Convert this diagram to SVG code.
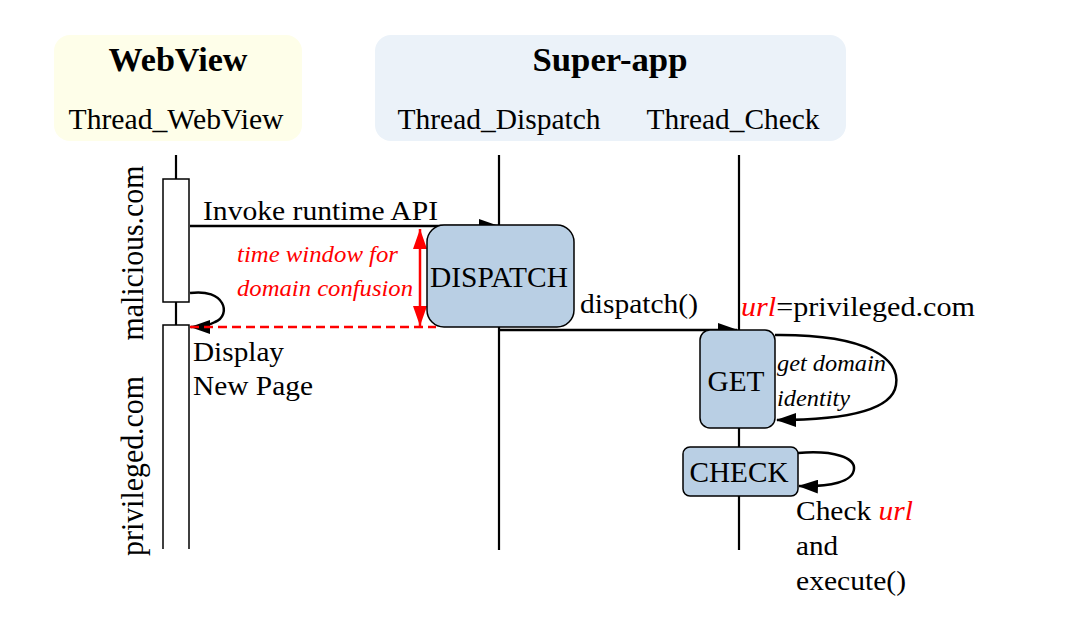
<svg xmlns="http://www.w3.org/2000/svg" width="1088" height="629" viewBox="0 0 1088 629">
<style>
text{font-family:"Liberation Serif","Times New Roman",serif;fill:#000}
.hdr{font-weight:bold;font-size:34px;text-anchor:middle}
.th{font-size:29px;text-anchor:middle}
.lbl{font-size:28px}
.red{fill:#ff0000;font-style:italic}
.it{font-style:italic}
.life{stroke:#000;stroke-width:2.2;fill:none}
.act{fill:#fff;stroke:#000;stroke-width:1.5}
.proc{fill:#b9cfe4;stroke:#000;stroke-width:1.5}
.conn{stroke:#000;stroke-width:2.5;fill:none}
</style>
<defs>
<marker id="ahb" markerWidth="20" markerHeight="14" refX="19" refY="7" orient="auto" markerUnits="userSpaceOnUse" viewBox="0 0 20 14">
<path d="M0,0 L20,7 L0,14 z" fill="#000"/>
</marker>
<marker id="ahr" markerWidth="20" markerHeight="14" refX="20" refY="7" orient="auto-start-reverse" markerUnits="userSpaceOnUse" viewBox="0 0 20 14">
<path d="M0,0 L20,7 L0,14 z" fill="#ff0000"/>
</marker>
</defs>

<g id="webview-header">
<rect x="54" y="35" width="248" height="106" rx="16" fill="#fefee9"/>
<text class="hdr" x="178" y="71" textLength="139" lengthAdjust="spacingAndGlyphs">WebView</text>
<text class="th" x="176" y="129" textLength="215" lengthAdjust="spacingAndGlyphs">Thread_WebView</text>
</g>
<g id="superapp-header">
<rect x="375" y="35" width="471" height="106" rx="16" fill="#ebf2f9"/>
<text class="hdr" x="610" y="71" textLength="155" lengthAdjust="spacingAndGlyphs">Super-app</text>
<text class="th" x="499" y="129" textLength="203" lengthAdjust="spacingAndGlyphs">Thread_Dispatch</text>
<text class="th" x="733" y="129" textLength="173" lengthAdjust="spacingAndGlyphs">Thread_Check</text>
</g>

<g id="lifelines">
<line class="life" x1="176" y1="155" x2="176" y2="325"/>
<line class="life" x1="499" y1="155" x2="499" y2="550"/>
<line class="life" x1="739" y1="155" x2="739" y2="550"/>
</g>

<g id="webview-activation-1">
<rect class="act" x="163" y="179" width="26" height="123"/>
</g>
<g id="webview-activation-2">
<path d="M163,549 L163,325 L189,325 L189,549" class="act"/>
</g>
<g id="domain-labels">
<text transform="translate(143,253) rotate(-90)" text-anchor="middle" font-size="32" textLength="175" lengthAdjust="spacingAndGlyphs">malicious.com</text>
<text transform="translate(143,466) rotate(-90)" text-anchor="middle" font-size="32" textLength="180" lengthAdjust="spacingAndGlyphs">privileged.com</text>
</g>

<g id="connectors">
<line class="conn" x1="190" y1="226" x2="498" y2="226" marker-end="url(#ahb)"/>
<path class="conn" d="M190,293 C225,288 232,315 215,322 C208,326 200,327 191,327" marker-end="url(#ahb)"/>
<line x1="190" y1="327" x2="436" y2="327" stroke="#ff0000" stroke-width="2.3" stroke-dasharray="9,5"/>
<line x1="420" y1="229" x2="420" y2="326" stroke="#ff0000" stroke-width="2.5" marker-start="url(#ahr)" marker-end="url(#ahr)"/>
<line class="conn" x1="500" y1="330" x2="737" y2="330" marker-end="url(#ahb)"/>
<path class="conn" d="M775,335 C870,334 900,360 896,385 C892,412 840,420 777,420" marker-end="url(#ahb)"/>
<path class="conn" d="M798,453 C835,450 855,458 854,469 C853,482 830,487 799,486" marker-end="url(#ahb)"/>
</g>

<g id="dispatch">
<rect class="proc" x="427" y="225" width="147" height="102" rx="17"/>
<text x="499" y="287" font-size="29" text-anchor="middle" textLength="138" lengthAdjust="spacingAndGlyphs">DISPATCH</text>
</g>
<g id="get">
<rect class="proc" x="700" y="330" width="75" height="98" rx="10"/>
<text x="736" y="391" font-size="29" text-anchor="middle" textLength="57" lengthAdjust="spacingAndGlyphs">GET</text>
</g>
<g id="check">
<rect class="proc" x="683" y="447" width="115" height="49" rx="7"/>
<text x="739" y="482" font-size="29" text-anchor="middle" textLength="99" lengthAdjust="spacingAndGlyphs">CHECK</text>
</g>

<g id="labels">
<text class="lbl" x="203" y="220" textLength="235" lengthAdjust="spacingAndGlyphs">Invoke runtime API</text>
<text class="red" x="237" y="262" font-size="24" textLength="161" lengthAdjust="spacingAndGlyphs">time window for</text>
<text class="red" x="237" y="296" font-size="24" textLength="176" lengthAdjust="spacingAndGlyphs">domain confusion</text>
<text class="lbl" x="193" y="361" textLength="91" lengthAdjust="spacingAndGlyphs">Display</text>
<text class="lbl" x="193" y="395" textLength="120" lengthAdjust="spacingAndGlyphs">New Page</text>
<text class="lbl" x="580" y="313" textLength="118" lengthAdjust="spacingAndGlyphs">dispatch()</text>
<text class="lbl" x="741" y="316" textLength="234" lengthAdjust="spacingAndGlyphs"><tspan class="red">url</tspan>=privileged.com</text>
<text class="it" x="777" y="371" font-size="23" textLength="109" lengthAdjust="spacingAndGlyphs">get domain</text>
<text class="it" x="777" y="406" font-size="23" textLength="73" lengthAdjust="spacingAndGlyphs">identity</text>
<text class="lbl" x="796" y="520" textLength="117" lengthAdjust="spacingAndGlyphs">Check <tspan class="red">url</tspan></text>
<text class="lbl" x="796" y="555" textLength="42" lengthAdjust="spacingAndGlyphs">and</text>
<text class="lbl" x="796" y="590" textLength="110" lengthAdjust="spacingAndGlyphs">execute()</text>
</g>
</svg>
